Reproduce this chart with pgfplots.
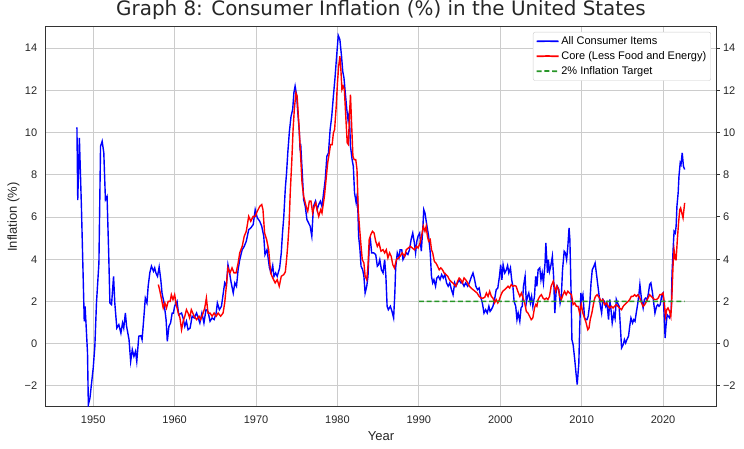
\documentclass[border=0pt]{standalone}
\usepackage{fontspec}
\setmainfont{Liberation Sans}
\newfontfamily\titlefont{DejaVu Sans}
\usepackage{pgfplots}
\pgfplotsset{compat=1.18}
\definecolor{gridgray}{RGB}{204,204,204}
\definecolor{spine}{RGB}{51,51,51}
\definecolor{tgreen}{RGB}{40,150,40}
\definecolor{txt}{RGB}{38,38,38}
\begin{document}
\begin{tikzpicture}
\begin{axis}[
  name=main, at={(0,0)}, anchor=south west,
  scale only axis, width=670pt, height=380pt,
  xmin=1944.2, xmax=2026.5, ymin=-3, ymax=15,
  xtick={1950,1960,...,2020},
  ytick={-2,0,2,4,6,8,10,12,14},
  yticklabels={−2,0,2,4,6,8,10,12,14},
  /pgf/number format/1000 sep={},
  /pgf/number format/assume math mode=true,
  grid=major, major grid style={color=gridgray, line width=0.8pt},
  axis line style={color=spine, line width=1pt},
  major tick length=0pt,
  ticklabel style={font=\fontsize{11}{13}\selectfont, text=txt},
  xticklabel style={anchor=base, yshift=-17pt},
  yticklabel style={xshift=-5.3pt},
  xlabel={Year}, ylabel={Inflation (\%)},
  xlabel style={at={(axis description cs:0.5,0)}, anchor=base, yshift=-33.5pt, font=\fontsize{13}{15}\selectfont, text=txt},
  ylabel style={at={(axis description cs:-0.0433,0.5)}, anchor=base, font=\fontsize{13}{15}\selectfont, text=txt},
  title={Graph 8: Consumer Inflation (\%) in the United States},
  title style={at={(axis description cs:0.5,1)}, anchor=base, yshift=5pt, font=\titlefont\fontsize{19.9}{24}\selectfont, text=txt},
  legend style={at={(axis description cs:0.9925,0.987)}, anchor=north east,
    draw=gridgray, rounded corners=2pt, fill=white,
    font=\fontsize{11}{13}\selectfont, inner sep=2.5pt, row sep=1.5pt},
  legend cell align=left,
  legend image code/.code={\path[draw,#1,line width=1.7pt] (0pt,0pt) -- (11pt,0.3pt) -- (22pt,0pt);},
]
\addplot[color=blue, line width=1.4pt] coordinates {
(1948.0,10.25)(1948.1,6.8)(1948.3,9.75)(1948.55,6.5)(1948.9,1.06)(1949.0,1.77)(1949.1,1.06)
(1949.3,-0.44)(1949.4,-2.9)(1949.6,-2.57)(1949.8,-1.86)(1950.0,-1.15)(1950.2,-0.13)(1950.4,1.93)
(1950.7,3.82)(1950.9,9.35)(1951.1,9.59)(1951.3,9.04)(1951.5,6.82)(1951.7,6.98)(1951.9,4.3)
(1952.05,1.93)(1952.25,1.85)(1952.5,3.19)(1952.65,1.93)(1952.9,0.74)(1953.15,0.9)(1953.4,0.5)
(1953.6,0.98)(1953.75,0.74)(1953.95,1.45)(1954.1,0.82)(1954.4,0.19)(1954.6,-0.84)(1954.8,-0.28)
(1955.0,-0.6)(1955.2,-0.36)(1955.35,-0.84)(1955.6,0.35)(1955.85,0.38)(1956.0,0.19)(1956.2,1.14)
(1956.4,2.16)(1956.6,1.93)(1956.75,2.72)(1956.95,3.35)(1957.15,3.67)(1957.4,3.43)(1957.55,3.59)
(1957.7,3.35)(1957.9,3.19)(1958.1,3.63)(1958.3,3.03)(1958.45,2.4)(1958.7,1.93)(1958.95,1.14)
(1959.1,0.11)(1959.3,0.82)(1959.5,0.98)(1959.7,1.45)(1959.85,1.45)(1960.0,1.77)(1960.3,2.0)
(1960.5,1.37)(1960.85,1.45)(1961.05,1.2)(1961.25,0.82)(1961.45,1.06)(1961.65,0.66)(1961.9,0.74)
(1962.15,1.3)(1962.4,1.22)(1962.7,1.45)(1962.9,1.22)(1963.1,0.98)(1963.35,1.45)(1963.6,0.98)
(1963.85,1.61)(1964.1,1.53)(1964.35,1.06)(1964.6,1.22)(1964.85,1.14)(1965.1,1.45)(1965.25,1.93)
(1965.5,1.61)(1965.75,1.77)(1965.95,2.32)(1966.15,2.88)(1966.35,2.72)(1966.55,3.74)(1966.75,3.35)
(1966.95,2.88)(1967.2,2.4)(1967.4,2.88)(1967.6,2.72)(1967.8,3.51)(1968.0,3.98)(1968.3,4.45)
(1968.55,4.61)(1968.8,4.85)(1969.1,5.4)(1969.35,5.48)(1969.65,5.64)(1969.9,6.35)(1970.15,5.96)
(1970.45,5.8)(1970.7,5.56)(1970.95,5.09)(1971.1,4.22)(1971.35,4.45)(1971.65,3.59)(1971.85,3.35)
(1972.05,3.7)(1972.2,3.19)(1972.4,3.35)(1972.6,3.19)(1972.9,3.59)(1973.1,4.3)(1973.25,5.24)
(1973.4,5.96)(1973.6,7.38)(1973.75,8.09)(1973.9,9.04)(1974.1,10.06)(1974.3,10.77)(1974.5,11.09)
(1974.65,11.88)(1974.8,12.2)(1975.0,11.72)(1975.1,11.09)(1975.3,10.14)(1975.4,9.27)(1975.5,9.35)
(1975.7,7.93)(1975.85,6.82)(1976.05,6.5)(1976.25,5.88)(1976.45,5.72)(1976.65,5.56)(1976.85,5.09)
(1977.05,6.5)(1977.3,6.75)(1977.5,6.35)(1977.7,6.59)(1977.9,6.75)(1978.1,6.5)(1978.3,7.14)
(1978.5,7.77)(1978.7,8.88)(1978.9,9.04)(1979.1,10.14)(1979.3,10.77)(1979.5,11.72)(1979.7,12.59)
(1979.9,13.62)(1980.1,14.6)(1980.3,14.4)(1980.5,13.62)(1980.65,12.9)(1980.8,12.59)(1981.0,11.72)
(1981.15,11.09)(1981.3,10.6)(1981.45,10.93)(1981.6,9.35)(1981.8,8.72)(1981.95,8.4)(1982.1,7.14)
(1982.3,6.67)(1982.45,7.14)(1982.6,5.09)(1982.75,4.53)(1982.9,3.67)(1983.1,3.5)(1983.25,3.19)
(1983.4,2.4)(1983.6,2.72)(1983.75,3.19)(1983.9,4.61)(1984.05,4.93)(1984.2,4.3)(1984.45,4.3)
(1984.7,4.22)(1984.9,3.67)(1985.05,3.74)(1985.2,3.98)(1985.4,3.5)(1985.6,3.35)(1985.8,3.98)
(1985.95,3.19)(1986.1,1.77)(1986.25,1.61)(1986.5,1.77)(1986.7,1.53)(1986.9,1.22)(1987.05,2.4)
(1987.15,3.59)(1987.35,4.3)(1987.55,4.06)(1987.7,4.45)(1987.9,4.45)(1988.05,3.98)(1988.25,4.14)
(1988.45,4.3)(1988.65,4.22)(1988.85,4.45)(1989.05,4.93)(1989.25,5.24)(1989.45,4.77)(1989.6,4.3)
(1989.75,4.85)(1989.9,5.09)(1990.1,5.24)(1990.3,4.38)(1990.5,5.56)(1990.6,6.35)(1990.75,6.19)
(1991.0,5.56)(1991.2,5.09)(1991.4,4.3)(1991.55,3.19)(1991.7,2.88)(1991.85,3.03)(1992.05,2.72)
(1992.2,3.11)(1992.4,3.19)(1992.6,3.03)(1992.8,3.27)(1993.0,3.11)(1993.2,3.27)(1993.4,2.88)
(1993.6,2.72)(1993.8,2.88)(1994.0,2.56)(1994.2,2.32)(1994.4,2.88)(1994.55,2.72)(1994.75,2.88)
(1994.95,3.03)(1995.15,2.88)(1995.35,2.88)(1995.55,2.72)(1995.75,2.88)(1996.0,2.72)(1996.2,2.88)
(1996.4,3.11)(1996.65,3.35)(1996.85,3.03)(1997.0,2.72)(1997.2,2.56)(1997.4,2.64)(1997.6,2.2)
(1997.8,1.93)(1998.0,1.45)(1998.2,1.61)(1998.4,1.45)(1998.6,1.77)(1998.75,1.53)(1998.9,1.61)
(1999.1,1.77)(1999.3,2.09)(1999.5,2.56)(1999.7,2.64)(1999.9,3.19)(2000.05,3.74)(2000.2,3.03)
(2000.35,3.74)(2000.55,3.35)(2000.75,3.5)(2000.9,3.7)(2001.05,3.35)(2001.25,3.59)(2001.4,3.03)
(2001.55,2.72)(2001.7,2.0)(2001.9,1.77)(2002.05,1.14)(2002.2,1.45)(2002.4,1.06)(2002.55,1.69)
(2002.7,1.77)(2002.85,2.72)(2003.05,3.19)(2003.2,1.93)(2003.35,2.24)(2003.5,2.4)(2003.7,1.93)
(2003.85,2.24)(2004.0,1.77)(2004.2,2.24)(2004.35,3.19)(2004.5,2.72)(2004.65,3.5)(2004.85,3.59)
(2005.0,3.03)(2005.15,3.35)(2005.3,2.88)(2005.5,3.82)(2005.6,4.77)(2005.8,3.35)(2005.9,3.98)
(2006.05,3.43)(2006.2,3.67)(2006.4,4.14)(2006.55,3.19)(2006.7,1.45)(2006.85,2.4)(2007.0,2.72)
(2007.2,2.56)(2007.35,1.93)(2007.5,2.24)(2007.65,3.5)(2007.85,4.38)(2008.0,4.3)(2008.15,3.98)
(2008.3,4.61)(2008.45,5.48)(2008.55,4.93)(2008.7,2.4)(2008.8,0.19)(2008.95,-0.05)(2009.15,-0.76)
(2009.3,-1.39)(2009.45,-1.94)(2009.65,-0.92)(2009.75,0.66)(2009.9,2.4)(2010.0,2.09)(2010.15,2.32)
(2010.35,1.22)(2010.5,1.14)(2010.65,1.14)(2010.8,1.3)(2011.0,1.93)(2011.15,2.88)(2011.3,3.5)
(2011.5,3.67)(2011.65,3.82)(2011.8,3.35)(2012.0,2.72)(2012.15,2.24)(2012.3,1.77)(2012.45,1.45)
(2012.6,2.09)(2012.8,2.0)(2012.95,1.77)(2013.1,1.93)(2013.3,1.14)(2013.45,2.09)(2013.6,1.61)
(2013.75,0.98)(2013.95,1.45)(2014.1,1.2)(2014.25,2.1)(2014.4,1.93)(2014.6,1.77)(2014.75,0.82)
(2014.9,-0.2)(2015.1,-0.05)(2015.25,0.19)(2015.4,0.03)(2015.55,0.19)(2015.75,0.35)(2015.9,0.82)
(2016.05,1.22)(2016.25,0.98)(2016.4,1.14)(2016.55,1.06)(2016.7,1.45)(2016.9,1.93)(2017.05,2.4)
(2017.15,2.8)(2017.35,2.09)(2017.55,1.69)(2017.7,2.09)(2017.85,2.16)(2018.05,2.09)(2018.2,2.4)
(2018.35,2.8)(2018.5,2.88)(2018.7,2.4)(2018.85,1.93)(2019.0,1.45)(2019.2,1.77)(2019.35,1.85)
(2019.5,1.77)(2019.65,1.85)(2019.85,2.32)(2020.0,2.4)(2020.15,1.14)(2020.25,0.27)(2020.35,0.82)
(2020.5,1.37)(2020.65,1.3)(2020.8,1.22)(2021.0,1.61)(2021.1,3.35)(2021.25,4.61)(2021.35,5.32)
(2021.5,5.24)(2021.6,5.56)(2021.7,6.5)(2021.85,7.14)(2021.95,7.93)(2022.1,8.56)(2022.2,8.48)
(2022.35,9.04)(2022.5,8.4)(2022.65,8.25)
};
\addlegendentry{All Consumer Items}
\addplot[color=red, line width=1.4pt] coordinates {
(1958.0,2.8)(1958.2,2.48)(1958.4,2.09)(1958.6,1.69)(1958.8,1.93)(1959.0,1.69)(1959.2,2.0)
(1959.45,2.0)(1959.6,2.32)(1959.8,2.09)(1960.0,2.32)(1960.2,1.85)(1960.45,1.45)(1960.65,1.22)
(1960.85,0.66)(1961.05,1.06)(1961.25,1.3)(1961.45,1.61)(1961.65,1.45)(1961.85,1.22)(1962.05,1.61)
(1962.4,1.3)(1962.7,1.14)(1963.0,1.3)(1963.2,1.14)(1963.5,1.45)(1963.7,1.69)(1963.9,2.16)
(1964.1,1.45)(1964.35,1.45)(1964.6,1.3)(1964.85,1.45)(1965.1,1.3)(1965.35,1.45)(1965.65,1.3)
(1965.95,1.45)(1966.15,1.93)(1966.35,2.72)(1966.55,3.59)(1966.8,3.35)(1967.05,3.59)(1967.3,3.35)
(1967.55,3.35)(1967.8,3.82)(1968.0,4.3)(1968.3,4.61)(1968.55,5.09)(1968.8,5.32)(1969.1,6.03)
(1969.35,5.8)(1969.65,6.03)(1969.9,6.03)(1970.15,6.27)(1970.45,6.5)(1970.7,6.59)(1970.85,6.35)
(1971.05,5.24)(1971.3,4.93)(1971.55,4.45)(1971.8,3.35)(1972.05,3.11)(1972.35,2.88)(1972.6,3.03)
(1972.85,2.72)(1973.1,3.19)(1973.4,3.27)(1973.6,3.4)(1973.75,3.98)(1973.9,4.69)(1974.05,5.56)
(1974.2,7.14)(1974.4,8.72)(1974.55,10.14)(1974.7,11.09)(1974.9,11.88)(1975.05,11.72)(1975.2,10.77)
(1975.35,9.83)(1975.5,8.72)(1975.65,7.61)(1975.85,6.98)(1976.0,6.75)(1976.2,6.43)(1976.35,6.27)
(1976.55,6.75)(1976.75,6.75)(1976.95,6.19)(1977.15,6.5)(1977.35,6.67)(1977.5,6.35)(1977.7,6.03)
(1977.95,6.35)(1978.1,6.19)(1978.4,6.98)(1978.6,7.77)(1978.8,8.56)(1979.0,9.04)(1979.15,9.43)
(1979.35,9.43)(1979.5,9.98)(1979.65,10.14)(1979.85,11.25)(1980.0,12.35)(1980.15,13.14)(1980.3,13.62)
(1980.4,13.14)(1980.55,12.04)(1980.7,12.2)(1980.85,12.04)(1981.0,10.93)(1981.2,9.51)(1981.35,9.43)
(1981.45,10.6)(1981.6,11.8)(1981.75,10.3)(1981.9,8.88)(1982.05,8.72)(1982.25,8.72)(1982.4,8.25)
(1982.55,6.35)(1982.7,5.56)(1982.9,4.61)(1983.05,3.98)(1983.25,3.82)(1983.4,3.19)(1983.6,3.03)
(1983.75,3.67)(1983.9,4.93)(1984.1,5.17)(1984.3,5.32)(1984.5,5.24)(1984.7,4.85)(1984.9,4.61)
(1985.1,4.77)(1985.35,4.38)(1985.6,4.45)(1985.8,4.3)(1986.0,4.45)(1986.2,4.06)(1986.4,4.3)
(1986.6,4.14)(1986.8,3.74)(1987.0,3.59)(1987.25,3.98)(1987.5,4.06)(1987.7,4.14)(1987.95,4.3)
(1988.25,4.14)(1988.45,4.45)(1988.7,4.53)(1988.95,4.61)(1989.2,4.53)(1989.45,4.45)(1989.7,4.61)
(1989.9,4.53)(1990.15,4.77)(1990.4,5.24)(1990.55,5.56)(1990.75,5.32)(1990.9,5.56)(1991.05,5.09)
(1991.2,4.85)(1991.4,4.93)(1991.55,4.45)(1991.7,4.3)(1991.9,3.9)(1992.1,3.82)(1992.3,3.67)
(1992.5,3.5)(1992.7,3.59)(1992.9,3.5)(1993.1,3.35)(1993.35,3.27)(1993.55,3.19)(1993.75,3.03)
(1993.95,2.95)(1994.15,2.88)(1994.35,2.8)(1994.55,2.72)(1994.75,2.95)(1994.95,3.11)(1995.15,3.03)
(1995.35,2.88)(1995.55,3.11)(1995.75,3.03)(1996.0,2.88)(1996.2,2.72)(1996.4,2.64)(1996.65,2.56)
(1996.9,2.48)(1997.15,2.4)(1997.4,2.24)(1997.65,2.16)(1997.9,2.16)(1998.1,2.2)(1998.3,2.4)
(1998.5,2.24)(1998.7,2.48)(1998.9,2.24)(1999.1,2.16)(1999.3,1.93)(1999.5,2.09)(1999.7,1.93)
(1999.9,2.09)(2000.1,2.32)(2000.3,2.48)(2000.55,2.56)(2000.75,2.64)(2000.95,2.72)(2001.15,2.64)
(2001.35,2.8)(2001.55,2.72)(2001.75,2.75)(2001.95,2.72)(2002.15,2.48)(2002.4,2.24)(2002.6,2.4)
(2002.8,2.16)(2003.0,1.93)(2003.2,1.53)(2003.4,1.45)(2003.6,1.3)(2003.8,1.14)(2004.0,1.22)
(2004.2,1.69)(2004.35,1.85)(2004.5,1.77)(2004.65,2.09)(2004.85,2.24)(2005.05,2.32)(2005.25,2.16)
(2005.45,2.09)(2005.65,2.16)(2005.85,2.09)(2006.05,2.24)(2006.25,2.72)(2006.5,2.95)(2006.65,2.72)
(2006.8,2.48)(2006.95,2.72)(2007.15,2.56)(2007.3,2.24)(2007.5,2.09)(2007.7,2.32)(2007.9,2.48)
(2008.1,2.32)(2008.3,2.48)(2008.5,2.4)(2008.75,2.32)(2008.95,1.85)(2009.15,1.93)(2009.35,1.77)
(2009.55,1.77)(2009.75,1.45)(2009.95,1.85)(2010.15,1.45)(2010.35,1.22)(2010.55,0.98)(2010.75,0.66)
(2010.9,0.74)(2011.05,1.14)(2011.25,1.45)(2011.4,1.77)(2011.55,2.09)(2011.7,2.24)(2011.9,2.32)
(2012.05,2.24)(2012.2,2.16)(2012.4,2.0)(2012.6,2.09)(2012.8,1.85)(2013.05,1.93)(2013.25,1.77)
(2013.45,1.69)(2013.65,1.77)(2013.85,1.69)(2014.05,1.77)(2014.25,1.85)(2014.45,1.77)(2014.65,1.69)
(2014.9,1.61)(2015.1,1.77)(2015.3,1.85)(2015.5,1.93)(2015.7,2.0)(2015.9,2.09)(2016.1,2.24)
(2016.3,2.24)(2016.5,2.32)(2016.7,2.24)(2016.9,2.32)(2017.15,2.16)(2017.35,1.93)(2017.55,1.77)
(2017.75,1.85)(2017.95,2.0)(2018.15,2.16)(2018.35,2.32)(2018.55,2.24)(2018.75,2.16)(2018.95,2.09)
(2019.2,2.09)(2019.4,2.16)(2019.6,2.32)(2019.8,2.32)(2020.0,2.4)(2020.15,1.93)(2020.3,1.3)
(2020.45,1.61)(2020.6,1.69)(2020.8,1.53)(2020.95,1.3)(2021.05,1.93)(2021.25,3.98)(2021.35,4.45)
(2021.5,3.98)(2021.6,3.98)(2021.75,4.93)(2021.9,5.72)(2022.05,6.35)(2022.15,6.43)(2022.3,6.19)
(2022.45,5.96)(2022.65,6.67)
};
\addlegendentry{Core (Less Food and Energy)}
\addplot[color=tgreen, line width=1.5pt, dash pattern=on 5pt off 2.8pt] coordinates {(1990.0,2)(2006.3,2.003)(2022.65,2)};
\addlegendentry{2\% Inflation Target}
\end{axis}
\begin{axis}[
  at={(0,0)}, anchor=south west,
  scale only axis, width=670pt, height=380pt,
  xmin=1944.2, xmax=2026.5, ymin=-3, ymax=15,
  hide x axis, axis y line*=right,
  ytick={-2,0,2,4,6,8,10,12,14},
  yticklabels={−2,0,2,4,6,8,10,12,14},
  axis line style={color=spine, line width=1pt},
  tick align=outside, major tick length=3.5pt,
  tick style={color=spine, line width=1pt},
  ticklabel style={font=\fontsize{11}{13}\selectfont, text=txt},
]
\addplot[draw=none] coordinates {(2000,0)};
\end{axis}
\pgfresetboundingbox
\path[use as bounding box] (-46pt,-42pt) rectangle (698pt,407pt);
\end{tikzpicture}
\end{document}
